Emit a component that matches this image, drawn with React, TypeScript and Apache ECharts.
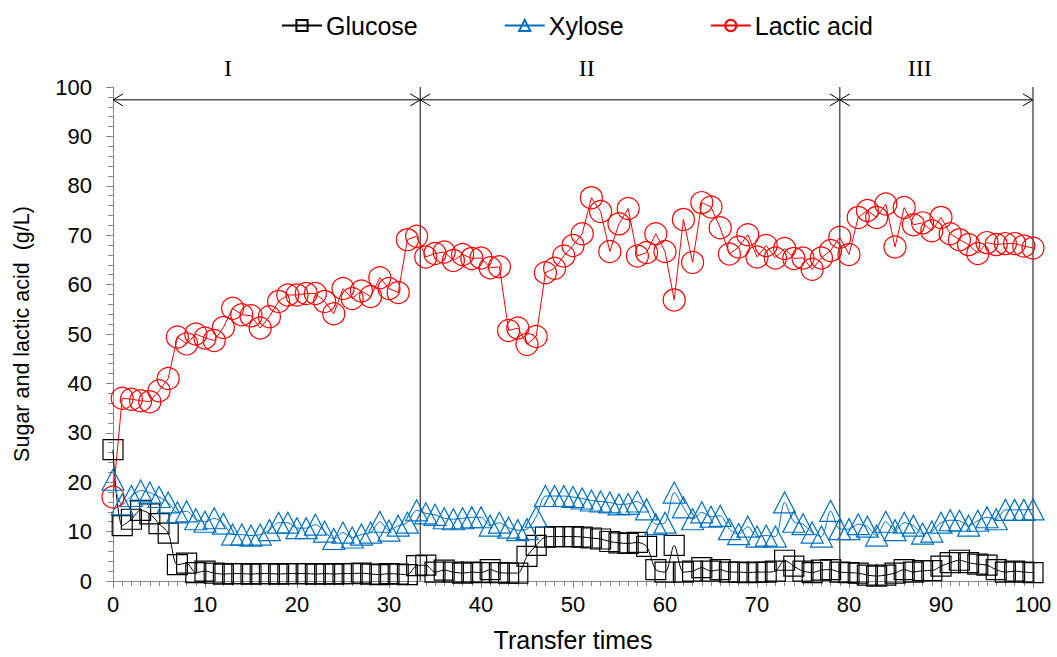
import React, { useEffect, useRef } from "react";
import * as echarts from "echarts";

// Concentrations (g/L) for transfers 0..100
const glucose = [
  26.6, 11.2, 12.5, 14.3, 13.6, 11.6, 9.7, 3.3, 3.6, 1.7,
  2.0, 1.6, 1.4, 1.5, 1.5, 1.4, 1.5, 1.5, 1.4, 1.5,
  1.5, 1.5, 1.4, 1.5, 1.4, 1.5, 1.5, 1.6, 1.4, 1.3,
  1.5, 1.4, 1.3, 3.1, 3.2, 1.8, 2.2, 1.8, 1.6, 1.8,
  1.7, 2.3, 1.7, 1.6, 1.6, 5.0, 7.2, 8.9, 9.0, 9.0,
  9.0, 8.9, 8.7, 8.5, 8.0, 7.7, 7.6, 7.8, 7.0, 2.3,
  1.8, 7.2, 1.8, 2.0, 2.7, 2.0, 2.3, 1.8, 1.8, 1.7,
  1.8, 1.8, 2.0, 4.2, 3.0, 2.0, 1.7, 2.2, 2.3, 1.8,
  1.7, 1.6, 1.2, 1.0, 1.2, 1.6, 2.3, 1.8, 2.1, 2.1,
  3.0, 3.7, 4.2, 3.7, 3.4, 3.2, 2.3, 1.8, 2.0, 1.8,
  1.7,
];

const xylose = [
  20.5, 15.5, 17.2, 18.3, 17.9, 17.0, 15.9, 13.9, 14.1, 12.5,
  12.0, 12.7, 11.6, 9.4, 9.4, 9.2, 9.4, 10.3, 11.8, 11.8,
  10.7, 10.7, 11.4, 10.0, 8.5, 9.8, 8.8, 9.4, 9.8, 12.0,
  10.2, 11.2, 11.8, 14.3, 13.7, 13.4, 12.7, 12.5, 12.7, 12.9,
  12.9, 11.2, 11.8, 10.8, 10.3, 10.5, 13.0, 17.2, 17.2, 17.2,
  17.0, 16.7, 16.3, 16.1, 15.9, 15.5, 15.6, 16.1, 14.5, 11.5,
  11.8, 17.9, 14.9, 12.5, 13.9, 13.0, 13.2, 10.5, 9.5, 11.0,
  9.0, 9.2, 9.0, 15.9, 12.0, 11.5, 9.8, 9.0, 14.2, 10.5,
  10.5, 11.5, 11.0, 9.2, 12.0, 10.3, 11.8, 11.2, 9.6, 10.0,
  11.8, 12.3, 12.2, 11.2, 12.2, 12.9, 12.5, 14.4, 14.4, 14.4,
  14.5,
];

const lacticAcid = [
  17.0, 37.0, 36.8, 36.5, 36.3, 38.5, 41.0, 49.4, 48.0, 50.0,
  49.2, 48.7, 51.3, 55.2, 53.9, 53.7, 51.2, 53.5, 56.6, 57.9,
  57.9, 58.2, 58.2, 56.6, 54.1, 59.2, 57.2, 58.7, 57.6, 61.4,
  59.2, 58.4, 69.1, 69.8, 65.6, 66.3, 66.6, 64.9, 66.1, 65.3,
  65.4, 63.4, 63.6, 50.7, 51.2, 47.9, 49.5, 62.4, 63.3, 65.8,
  67.9, 70.3, 77.6, 74.8, 66.7, 72.3, 75.4, 65.8, 66.5, 70.3,
  66.7, 56.9, 73.2, 64.5, 76.6, 75.7, 71.5, 66.2, 67.6, 70.1,
  65.6, 67.9, 65.4, 67.3, 65.3, 65.4, 63.1, 65.4, 66.9, 69.6,
  66.1, 73.6, 75.0, 73.6, 76.3, 67.6, 75.6, 72.1, 72.5, 70.9,
  73.6, 70.3, 69.1, 68.1, 66.3, 68.5, 68.1, 68.3, 68.3, 67.8,
  67.4,
];

// Fermentation phases: boundaries on the transfer axis and their labels
const phaseBounds = [0, 33.4, 79, 100];
const phaseNames = ["I", "II", "III"];
const phaseLabelX = [12.5, 51.5, 87.7];
const arrowLevel = 97.4;
const phaseLabelLevel = 103.8;

const axisGray = "#868686";

const toPairs = (vals: number[]) => vals.map((v, i) => [i, v]);

export default function App() {
  const ref = useRef<HTMLDivElement>(null);

  useEffect(() => {
    if (!ref.current) return;
    const chart = echarts.init(ref.current, undefined, { renderer: "svg" });

    const phaseData = phaseNames.map((_, i) => [phaseBounds[i], phaseBounds[i + 1]]);

    chart.setOption({
      animation: false,
      backgroundColor: "#ffffff",
      textStyle: { fontFamily: "Arial, 'Liberation Sans', sans-serif" },
      grid: { left: 113, top: 87, width: 920, height: 498, containLabel: false },
      legend: {
        data: ["Glucose", "Xylose", "Lactic acid"],
        top: 8,
        left: 276,
        itemWidth: 40,
        itemHeight: 14,
        itemGap: 86,
        textStyle: { fontSize: 25, color: "#000", padding: [0, 0, 0, -1] },
      },
      xAxis: {
        type: "value",
        min: 0,
        max: 100,
        interval: 10,
        name: "Transfer times",
        nameLocation: "middle",
        nameGap: 46,
        nameTextStyle: { fontSize: 25, color: "#000" },
        axisLine: { show: true, lineStyle: { color: axisGray, width: 1 } },
        axisTick: { show: true, length: 7, lineStyle: { color: axisGray } },
        minorTick: { show: true, splitNumber: 10, length: 5, lineStyle: { color: axisGray } },
        splitLine: { show: false },
        axisLabel: { fontSize: 22, color: "#000", margin: 12 },
      },
      yAxis: {
        type: "value",
        min: 0,
        max: 100,
        interval: 10,
        name: "Sugar and lactic acid  (g/L)",
        nameLocation: "middle",
        nameGap: 80,
        nameTextStyle: { fontSize: 21.5, color: "#000" },
        axisLine: { show: true, lineStyle: { color: axisGray, width: 1 } },
        axisTick: { show: true, length: 7, lineStyle: { color: axisGray } },
        minorTick: { show: true, splitNumber: 5, length: 5, lineStyle: { color: axisGray } },
        splitLine: { show: false },
        axisLabel: { fontSize: 22, color: "#000", margin: 21 },
      },
      series: [
        {
          name: "Glucose",
          type: "line",
          data: toPairs(glucose),
          smooth: 0.3,
          symbol: "rect",
          symbolSize: 20,
          itemStyle: { color: "transparent", borderColor: "#000", borderWidth: 1.2 },
          lineStyle: { color: "#000", width: 1 },
        },
        {
          name: "Xylose",
          type: "line",
          data: toPairs(xylose),
          smooth: 0.3,
          symbol: "triangle",
          symbolSize: [22, 21],
          itemStyle: { color: "transparent", borderColor: "#0070C0", borderWidth: 1.2 },
          lineStyle: { color: "#0070C0", width: 1 },
        },
        {
          name: "Lactic acid",
          type: "line",
          data: toPairs(lacticAcid),
          symbol: "circle",
          symbolSize: 22,
          itemStyle: { color: "transparent", borderColor: "#FF0000", borderWidth: 1.2 },
          lineStyle: { color: "#FF0000", width: 1 },
        },
        {
          name: "phases",
          type: "custom",
          silent: true,
          clip: false,
          data: phaseData,
          renderItem: (params: any, api: any) => {
            const i = params.dataIndex;
            const x0 = api.value(0);
            const x1 = api.value(1);
            const a = api.coord([x0, arrowLevel]);
            const b = api.coord([x1, arrowLevel]);
            const top = api.coord([x1, 100]);
            const bottom = api.coord([x1, 0]);
            const lbl = api.coord([phaseLabelX[i], phaseLabelLevel]);
            const head = 10;
            const half = 6;
            const stroke = { stroke: "#000", lineWidth: 1, fill: "none" };
            return {
              type: "group",
              children: [
                { type: "line", shape: { x1: a[0], y1: a[1], x2: b[0], y2: b[1] }, style: stroke },
                {
                  type: "polyline",
                  shape: { points: [[a[0] + head, a[1] - half], [a[0], a[1]], [a[0] + head, a[1] + half]] },
                  style: stroke,
                },
                {
                  type: "polyline",
                  shape: { points: [[b[0] - head, b[1] - half], [b[0], b[1]], [b[0] - head, b[1] + half]] },
                  style: stroke,
                },
                {
                  type: "line",
                  shape: { x1: top[0], y1: top[1], x2: bottom[0], y2: bottom[1] },
                  style: { stroke: "#404040", lineWidth: 1.3 },
                },
                {
                  type: "text",
                  x: lbl[0],
                  y: lbl[1],
                  style: {
                    text: phaseNames[i],
                    fill: "#000",
                    font: "24px 'Liberation Serif', 'Times New Roman', serif",
                    align: "center",
                    verticalAlign: "middle",
                  },
                },
              ],
            };
          },
        },
      ],
    });

    return () => chart.dispose();
  }, []);

  return (
    <div
      ref={ref}
      style={{ position: "fixed", left: 0, top: 0, width: 1057, height: 657, background: "#fff" }}
    />
  );
}
